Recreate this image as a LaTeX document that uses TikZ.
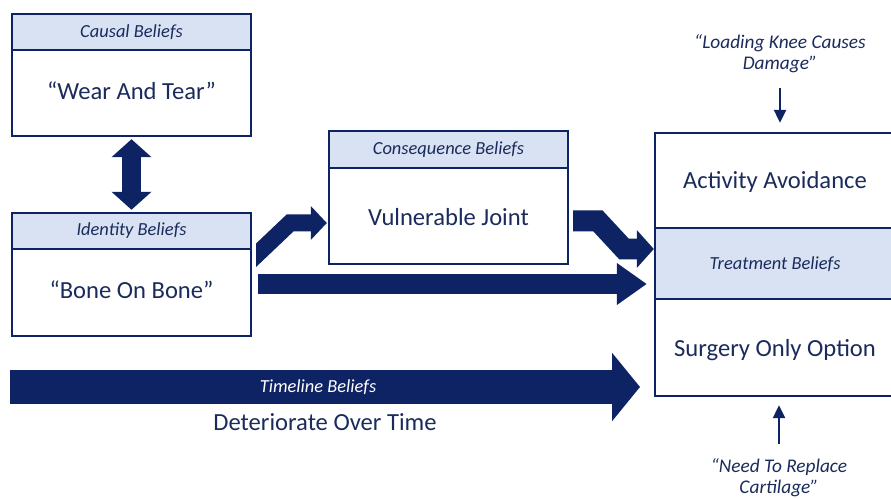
\documentclass[tikz,border=0pt]{standalone}
\usepackage{fontspec}
\setmainfont{Carlito}
\usetikzlibrary{arrows.meta,positioning,calc}
\definecolor{navy}{HTML}{0E2363}
\definecolor{ink}{HTML}{1A2B5C}
\definecolor{band}{HTML}{D9E2F3}
\tikzset{
  beliefbox/.style={draw=navy,line width=1.4pt,fill=white,inner sep=0pt},
  headbox/.style={draw=navy,line width=1.4pt,fill=band,inner sep=0pt,
    font=\fontsize{10.5}{12}\selectfont\itshape,text=ink},
  bigtext/.style={font=\fontsize{14}{16}\selectfont,text=ink},
  quotetext/.style={font=\fontsize{11}{12}\selectfont\itshape,text=ink,align=center},
  blockarrow/.style={navy,line join=miter,miter limit=4},
  thinarrow/.style={navy,line width=1.3pt,-{Triangle[length=2.6mm,width=2.4mm]}}
}
\begin{document}
\begin{tikzpicture}[x=0.02cm,y=-0.02cm]
\clip (0,0) rectangle (891,499);
\fill[white] (0,0) rectangle (891,499);
% causal beliefs
\node[beliefbox,minimum width=4.78cm,minimum height=2.44cm] (causal) at (131.5,75) {};
\node[headbox,minimum width=4.78cm,minimum height=0.72cm,anchor=north] (causalhd) at (causal.north) {Causal Beliefs};
\node[bigtext] (causaltx) at ($(causalhd.south)!0.5!(causal.south)+(0,-4)$) {“Wear And Tear”};
% identity beliefs
\node[beliefbox,minimum width=4.78cm,minimum height=2.46cm] (ident) at (131.5,274.5) {};
\node[headbox,minimum width=4.78cm,minimum height=0.72cm,anchor=north] (identhd) at (ident.north) {Identity Beliefs};
\node[bigtext] (identtx) at ($(identhd.south)!0.5!(ident.south)+(0,-4)$) {“Bone On Bone”};
% consequence beliefs
\node[beliefbox,minimum width=4.78cm,minimum height=2.66cm] (conseq) at (448.5,197.5) {};
\node[headbox,minimum width=4.78cm,minimum height=0.74cm,anchor=north] (conseqhd) at (conseq.north) {Consequence Beliefs};
\node[bigtext] (conseqtx) at ($(conseqhd.south)!0.5!(conseq.south)$) {Vulnerable Joint};
% treatment beliefs
\node[beliefbox,minimum width=5cm,minimum height=5.26cm] (treat) at (780,264.5) {};
\node[headbox,minimum width=5cm,minimum height=1.42cm] (treathd) at (780,263.5) {};
\node[headbox,draw=none,fill=none] (treatlb) at (775,264) {Treatment Beliefs};
\node[bigtext] (avoid) at (775,182) {Activity Avoidance};
\node[bigtext] (surgery) at (775,350) {Surgery Only Option};
% quotes
\node[quotetext] (loadq) at (780,54) {“Loading Knee Causes\\Damage”};
\node[quotetext] (needq) at (779,478) {“Need To Replace\\Cartilage”};
\draw[thinarrow,shorten <=5pt] (loadq.south) -- ($(treat.north)+(0,-9)$);
\draw[thinarrow,shorten <=5pt] (needq.north) -- ($(treat.south)+(-1,8)$);
% block arrows
\draw[blockarrow,line width=0.38cm,{Triangle[length=0.36cm,width=0.78cm]}-{Triangle[length=0.36cm,width=0.78cm]}]
  ($(causal.south)+(0,2)$) -- ($(ident.north)+(0,-2)$);
\begin{scope}
\clip (256,180) rectangle (340,275);
\draw[blockarrow,line width=0.34cm,-{Triangle[length=0.32cm,width=0.66cm]}]
  (250,261) -- (290,223) -- ($(conseq.west|-0,223)+(-1,0)$);
\end{scope}
\draw[blockarrow,line width=0.42cm,-{Triangle[length=0.34cm,width=0.74cm]}]
  (573,221) -- (598,221) -- (624,249) -- ($(treat.west|-0,249)$);
\draw[blockarrow,line width=0.4cm,-{Triangle[length=0.6cm,width=0.8cm]}]
  (258,284) -- ($(treat.west|-0,284)+(-7,0)$);
% timeline beliefs
\draw[blockarrow,line width=0.68cm,-{Triangle[length=0.56cm,width=1.34cm]}]
  (10,387) coordinate (tlstart) -- (640,387) coordinate (tlend);
\node[headbox,draw=none,fill=none,text=white] (tllb) at (318,387) {Timeline Beliefs};
\node[bigtext] (tltx) at (325,422) {Deteriorate Over Time};
\end{tikzpicture}
\end{document}
